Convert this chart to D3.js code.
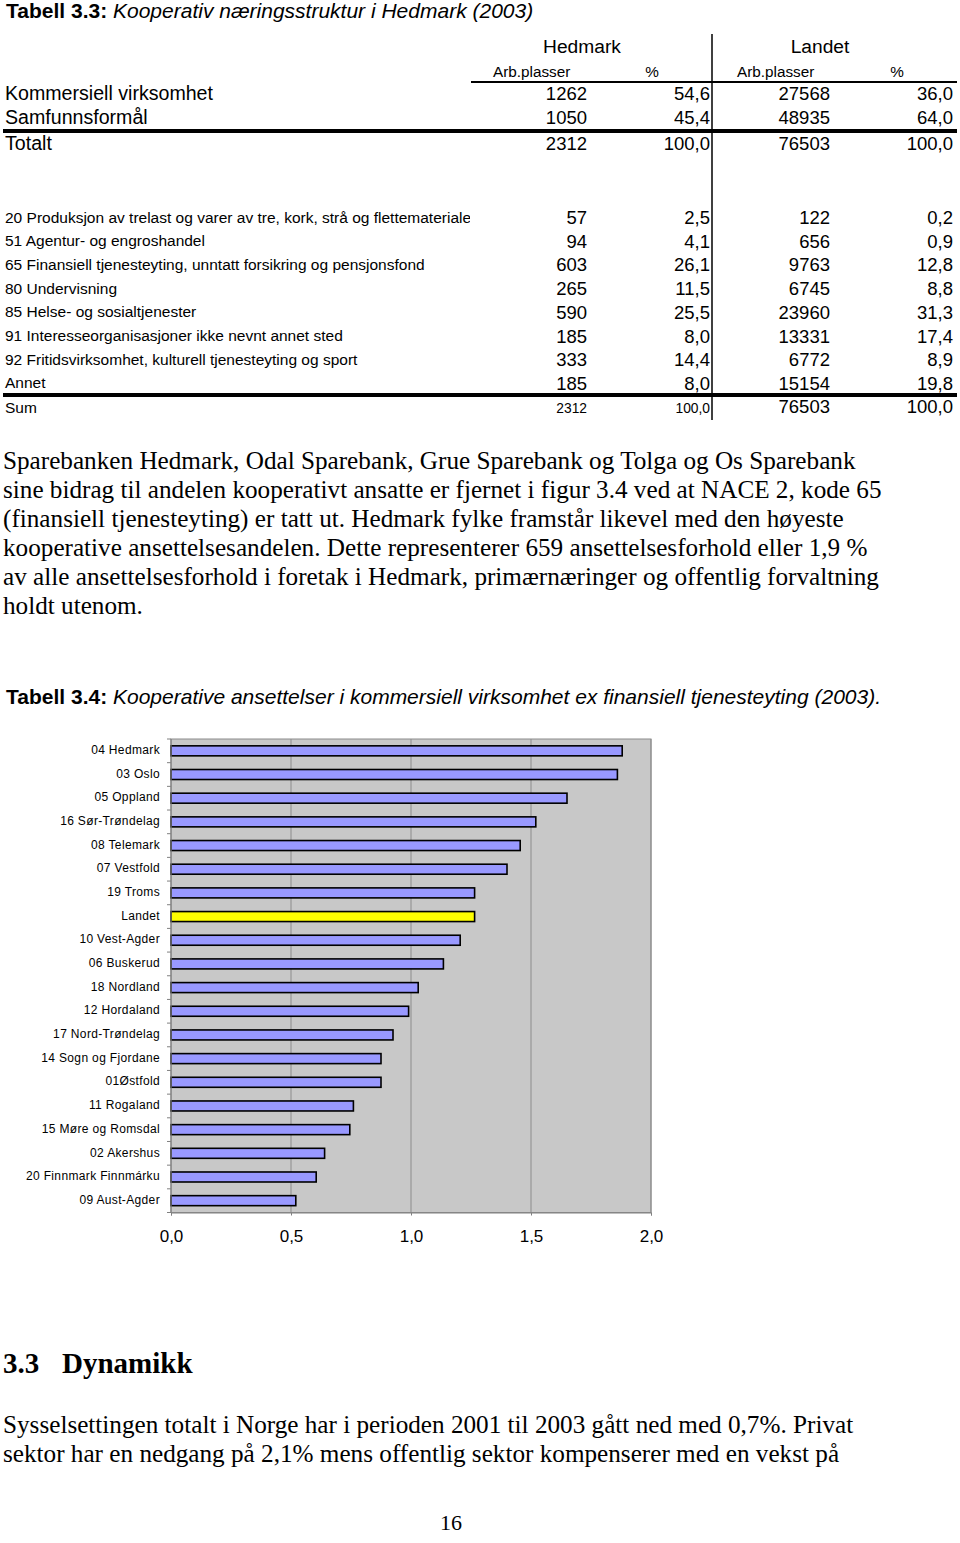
<!DOCTYPE html>
<html>
<head>
<meta charset="utf-8">
<script src="https://cdn.jsdelivr.net/npm/d3@7"></script>
<style>
  body { margin: 0; background: #fff; }
  svg { display: block; }
  .sans { font-family: "Liberation Sans", Arial, sans-serif; }
  .serif { font-family: "Liberation Serif", "Times New Roman", serif; }
</style>
</head>
<body>
<div id="page"></div>
<script>
// --- Tabell 3.3 data ---
var mainRows = ['Kommersiell virksomhet', 'Samfunnsformål'];
var mainHedArb = ['1262', '1050'];
var mainHedPct = ['54,6', '45,4'];
var mainLanArb = ['27568', '48935'];
var mainLanPct = ['36,0', '64,0'];
var totalRow = ['Totalt', '2312', '100,0', '76503', '100,0'];

var naceRows = [
  '20 Produksjon av trelast og varer av tre, kork, strå og flettematerialer',
  '51 Agentur- og engroshandel',
  '65 Finansiell tjenesteyting, unntatt forsikring og pensjonsfond',
  '80 Undervisning',
  '85 Helse- og sosialtjenester',
  '91 Interesseorganisasjoner ikke nevnt annet sted',
  '92 Fritidsvirksomhet, kulturell tjenesteyting og sport',
  'Annet'
];
var naceHedArb = ['57', '94', '603', '265', '590', '185', '333', '185'];
var naceHedPct = ['2,5', '4,1', '26,1', '11,5', '25,5', '8,0', '14,4', '8,0'];
var naceLanArb = ['122', '656', '9763', '6745', '23960', '13331', '6772', '15154'];
var naceLanPct = ['0,2', '0,9', '12,8', '8,8', '31,3', '17,4', '8,9', '19,8'];
var sumRow = ['Sum', '2312', '100,0', '76503', '100,0'];

// --- Tabell 3.4 data (andel kooperativt ansatte, %) ---
var counties = ['04 Hedmark', '03 Oslo', '05 Oppland', '16 Sør-Trøndelag', '08 Telemark',
  '07 Vestfold', '19 Troms', 'Landet', '10 Vest-Agder', '06 Buskerud', '18 Nordland',
  '12 Hordaland', '17 Nord-Trøndelag', '14 Sogn og Fjordane', '01Østfold', '11 Rogaland',
  '15 Møre og Romsdal', '02 Akershus', '20 Finnmark Finnmárku', '09 Aust-Agder'];
var shares = [1.88, 1.86, 1.65, 1.52, 1.455, 1.40, 1.265, 1.265, 1.205, 1.135, 1.03,
  0.99, 0.925, 0.875, 0.875, 0.76, 0.745, 0.64, 0.605, 0.52];
var xTicks = [0, 0.5, 1.0, 1.5, 2.0];

var paragraph1 = [
  'Sparebanken Hedmark, Odal Sparebank, Grue Sparebank og Tolga og Os Sparebank',
  'sine bidrag til andelen kooperativt ansatte er fjernet i figur 3.4 ved at NACE 2, kode 65',
  '(finansiell tjenesteyting) er tatt ut. Hedmark fylke framstår likevel med den høyeste',
  'kooperative ansettelsesandelen. Dette representerer 659 ansettelsesforhold eller 1,9 %',
  'av alle ansettelsesforhold i foretak i Hedmark, primærnæringer og offentlig forvaltning',
  'holdt utenom.'
];
var paragraph2 = [
  'Sysselsettingen totalt i Norge har i perioden 2001 til 2003 gått ned med 0,7%. Privat',
  'sektor har en nedgang på 2,1% mens offentlig sektor kompenserer med en vekst på'
];

var W = 960, H = 1543;
var svg = d3.select('#page').append('svg').attr('width', W).attr('height', H);
svg.append('rect').attr('width', W).attr('height', H).attr('fill', '#fff');

// ---------- table 3.3 ----------
function title(y, bold, italic) {
  var t = svg.append('text').attr('class', 'sans').attr('x', 6).attr('y', y)
    .attr('font-size', 21);
  t.append('tspan').attr('font-weight', 'bold').text(bold);
  t.append('tspan').attr('font-style', 'italic').text(' ' + italic);
}
title(18, 'Tabell 3.3:', 'Kooperativ næringsstruktur i Hedmark (2003)');

var colRight = [587, 710, 830, 953];
var tbl = svg.append('g').attr('class', 'sans');

tbl.append('text').attr('x', 582).attr('y', 53).attr('text-anchor', 'middle')
  .attr('font-size', 19.2).text('Hedmark');
tbl.append('text').attr('x', 820).attr('y', 53).attr('text-anchor', 'middle')
  .attr('font-size', 19.2).text('Landet');
[[493, 'start', 'Arb.plasser'], [652, 'middle', '%'], [737, 'start', 'Arb.plasser'], [897, 'middle', '%']]
  .forEach(function(h) {
    tbl.append('text').attr('x', h[0]).attr('y', 77).attr('text-anchor', h[1])
      .attr('font-size', 15.3).text(h[2]);
  });

tbl.append('line').attr('x1', 471).attr('x2', 957).attr('y1', 82).attr('y2', 82)
  .attr('stroke', '#000').attr('stroke-width', 2);

function row(y, cells, labelSize, numSizes) {
  tbl.append('text').attr('x', 5).attr('y', y).attr('font-size', labelSize).text(cells[0]);
  for (var i = 1; i < 5; i++) {
    tbl.append('text').attr('x', colRight[i - 1]).attr('y', y).attr('text-anchor', 'end')
      .attr('font-size', numSizes[i - 1]).text(cells[i]);
  }
}
var big = [18.5, 18.5, 18.5, 18.5];
mainRows.forEach(function(r, i) {
  row(100 + i * 24, [r, mainHedArb[i], mainHedPct[i], mainLanArb[i], mainLanPct[i]], 19.6, big);
});
tbl.append('line').attr('x1', 3).attr('x2', 957).attr('y1', 131).attr('y2', 131)
  .attr('stroke', '#000').attr('stroke-width', 4);
row(150, totalRow, 19.6, big);

// NACE rows (first label is cut by its cell in the original)
svg.append('clipPath').attr('id', 'labclip').append('rect')
  .attr('x', 0).attr('y', 190).attr('width', 470).attr('height', 230);
naceRows.forEach(function(r, i) {
  var y = 222.5 + i * 23.7;
  tbl.append('text').attr('x', 5).attr('y', y).attr('font-size', 15.5)
    .attr('clip-path', 'url(#labclip)').text(r);
  [naceHedArb[i], naceHedPct[i], naceLanArb[i], naceLanPct[i]].forEach(function(v, j) {
    tbl.append('text').attr('x', colRight[j]).attr('y', y + 1.5).attr('text-anchor', 'end')
      .attr('font-size', 18.5).text(v);
  });
});
tbl.append('line').attr('x1', 3).attr('x2', 957).attr('y1', 395).attr('y2', 395)
  .attr('stroke', '#000').attr('stroke-width', 4);
row(413, sumRow, 15.5, [13.8, 13.8, 18.5, 18.5]);

tbl.append('line').attr('x1', 712).attr('x2', 712).attr('y1', 34).attr('y2', 420)
  .attr('stroke', '#000').attr('stroke-width', 1.5);

// ---------- paragraph ----------
var p1 = svg.append('g').attr('class', 'serif').attr('font-size', 25.2);
paragraph1.forEach(function(l, i) {
  p1.append('text').attr('x', 3).attr('y', 469 + i * 29).text(l);
});

// ---------- chart 3.4 ----------
title(704, 'Tabell 3.4:', 'Kooperative ansettelser i kommersiell virksomhet ex finansiell tjenesteyting (2003).');

var plot = { left: 171, right: 651, top: 739, bottom: 1212.5 };
var x = d3.scaleLinear().domain([0, 2]).range([plot.left, plot.right]);
var y = d3.scaleBand().domain(counties).range([plot.top, plot.bottom]).padding(0);
var barH = 10;

var chart = svg.append('g');
chart.append('rect').attr('x', plot.left).attr('y', plot.top)
  .attr('width', plot.right - plot.left).attr('height', plot.bottom - plot.top)
  .attr('fill', '#c8c8c8').attr('stroke', '#8c8c8c').attr('stroke-width', 1);

chart.selectAll('.grid').data(xTicks.slice(1)).enter().append('line')
  .attr('class', 'grid')
  .attr('x1', function(d) { return x(d); }).attr('x2', function(d) { return x(d); })
  .attr('y1', plot.top).attr('y2', plot.bottom)
  .attr('stroke', '#8c8c8c').attr('stroke-width', 1);

chart.selectAll('.bar').data(counties).enter().append('rect')
  .attr('class', 'bar')
  .attr('x', x(0))
  .attr('y', function(d) { return y(d) + y.bandwidth() / 2 - barH / 2; })
  .attr('width', function(d, i) { return x(shares[i]) - x(0); })
  .attr('height', barH)
  .attr('fill', function(d) { return d === 'Landet' ? '#ffff00' : '#9999ff'; })
  .attr('stroke', '#000').attr('stroke-width', 1.6);

// left axis: ticks between categories
var yAxis = chart.append('g').attr('transform', 'translate(' + plot.left + ',0)');
yAxis.append('line').attr('x1', 0).attr('x2', 0).attr('y1', plot.top).attr('y2', plot.bottom)
  .attr('stroke', '#808080').attr('stroke-width', 1.2);
var bounds = counties.map(function(d) { return y(d); }).concat([plot.bottom]);
yAxis.selectAll('.tk').data(bounds).enter().append('line')
  .attr('x1', -4).attr('x2', 0)
  .attr('y1', function(d) { return d; }).attr('y2', function(d) { return d; })
  .attr('stroke', '#808080').attr('stroke-width', 1);
yAxis.selectAll('.lab').data(counties).enter().append('text')
  .attr('class', 'sans')
  .attr('x', -11).attr('y', function(d) { return y(d) + y.bandwidth() / 2 - 1; })
  .attr('dy', '0.35em').attr('text-anchor', 'end')
  .attr('font-size', 12).attr('letter-spacing', 0.35)
  .text(function(d) { return d; });

var xAxis = chart.append('g').attr('class', 'sans')
  .attr('transform', 'translate(0,' + plot.bottom + ')')
  .call(d3.axisBottom(x).tickValues(xTicks).tickSize(3).tickPadding(14)
    .tickFormat(function(d) { return d3.format('.1f')(d).replace('.', ','); }));
xAxis.select('.domain').attr('stroke', '#808080');
xAxis.selectAll('.tick line').attr('stroke', '#808080');
xAxis.selectAll('.tick text').attr('font-size', 17).attr('fill', '#000')
  .attr('font-family', '"Liberation Sans", Arial, sans-serif');

// ---------- section 3.3 ----------
var head = svg.append('g').attr('class', 'serif').attr('font-size', 29)
  .attr('font-weight', 'bold');
head.append('text').attr('x', 3).attr('y', 1373).text('3.3');
head.append('text').attr('x', 62).attr('y', 1373).text('Dynamikk');

var p2 = svg.append('g').attr('class', 'serif').attr('font-size', 25.2);
paragraph2.forEach(function(l, i) {
  p2.append('text').attr('x', 3).attr('y', 1433 + i * 29).text(l);
});
svg.append('text').attr('class', 'serif').attr('x', 451).attr('y', 1530)
  .attr('text-anchor', 'middle').attr('font-size', 22).text('16');
</script>
</body>
</html>
